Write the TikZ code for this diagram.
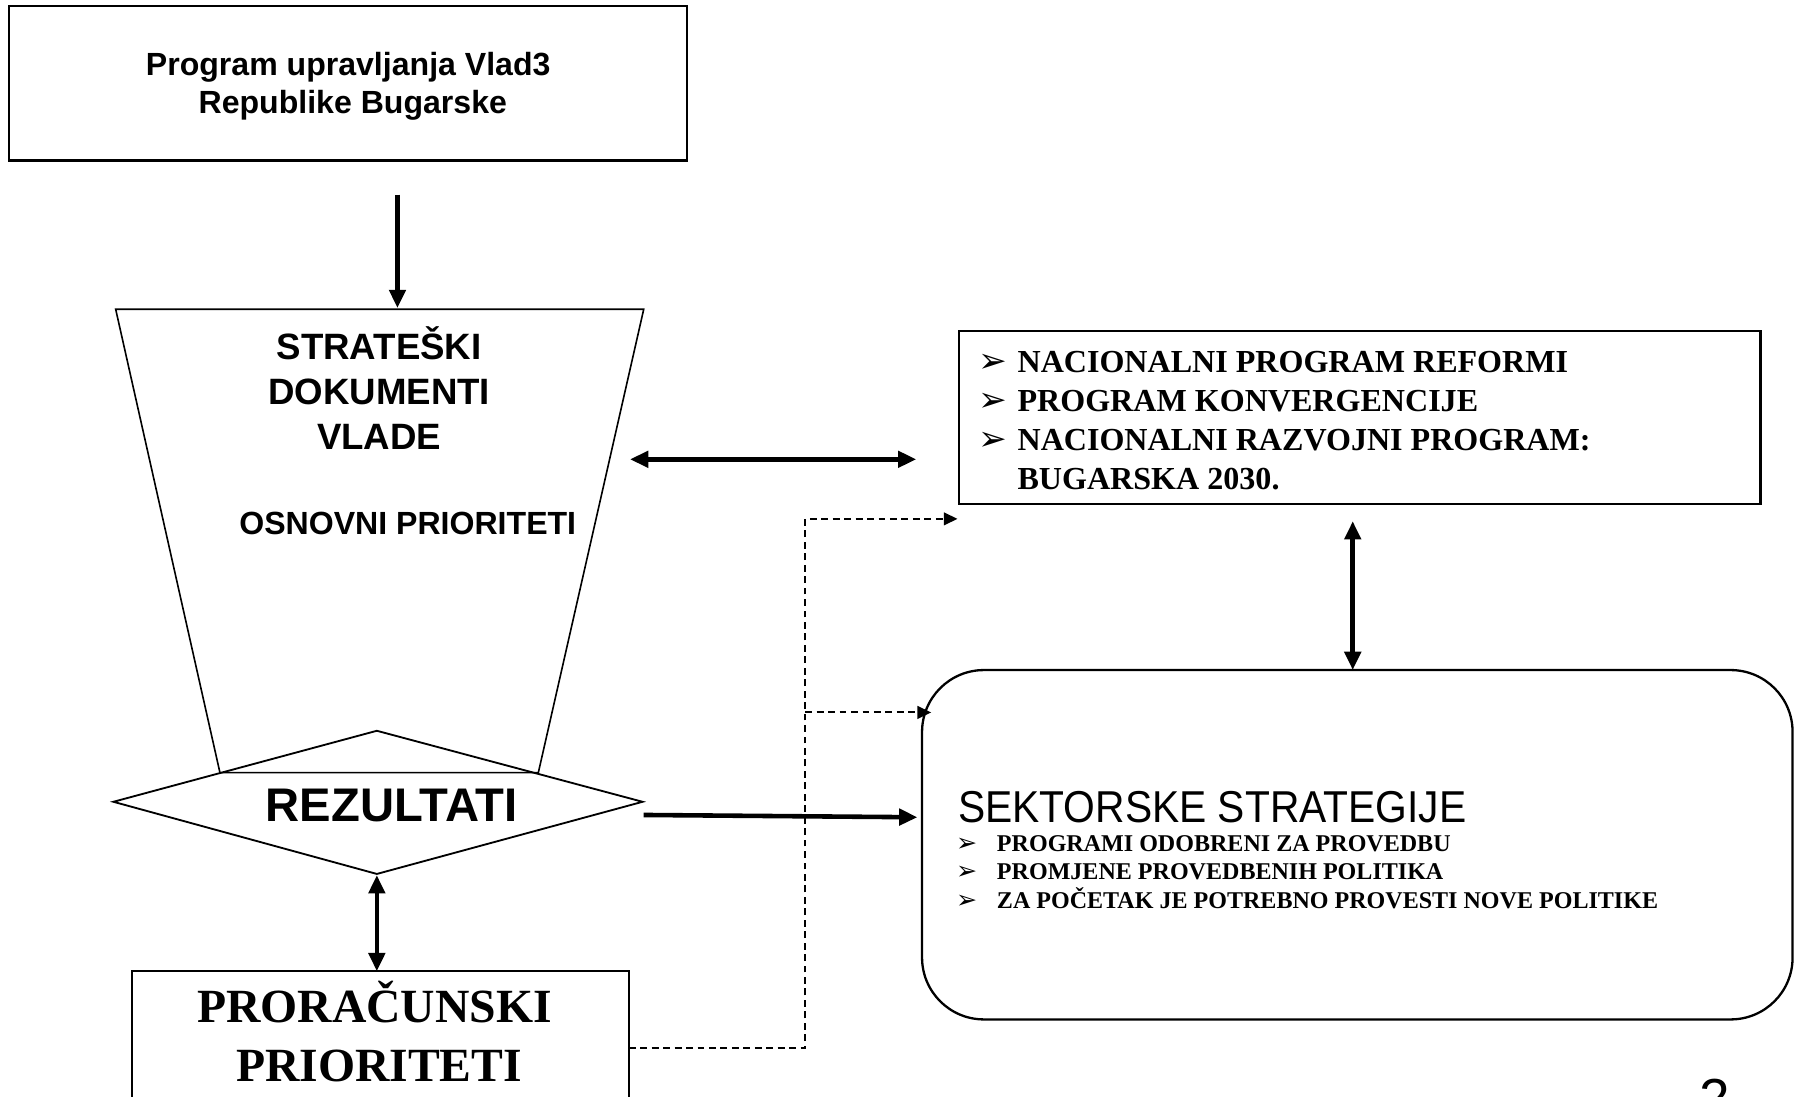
\documentclass[tikz,border=0pt]{standalone}
\usepackage{fontspec}
\setmainfont{Liberation Serif}
\newfontfamily\arial{Liberation Sans}
\newfontfamily\narrowsans[FakeStretch=0.913]{Liberation Sans}
\newfontfamily\dingfont{DejaVu Sans}
\usetikzlibrary{arrows.meta}
\tikzset{
  box/.style={draw, line width=1pt, inner sep=0pt},
  outline/.style={draw, line width=0.8pt, line join=miter},
  thickarrow/.style={line width=2pt, -{Triangle[length=8pt,width=7pt]}},
  dblarrow/.style={line width=2pt, {Triangle[length=8pt,width=7pt]}-{Triangle[length=8pt,width=7pt]}},
  toparrow/.style={line width=2pt, -{Triangle[length=8pt,width=7pt]}},
  dashconn/.style={line width=0.9pt, dash pattern=on 3pt off 2pt},
  dasharrow/.style={dashconn, -{Triangle[length=6pt,width=5.5pt]}},
  txt/.style={inner sep=0pt, anchor=base},
  ltxt/.style={inner sep=0pt, anchor=base west},
  sanshead/.style={font=\arial\bfseries\fontsize{16}{20}\selectfont},
  serifitem/.style={font=\bfseries\fontsize{14}{17}\selectfont},
  smallitem/.style={font=\bfseries\fontsize{10.5}{12.5}\selectfont},
  bulletA/.style={inner sep=0pt, anchor=base, font=\dingfont\fontsize{15}{17}\selectfont},
  bulletB/.style={inner sep=0pt, anchor=base, font=\dingfont\fontsize{11}{13}\selectfont},
}
\begin{document}
\begin{tikzpicture}[x=0.5pt,y=-0.5pt]
\path[use as bounding box, clip] (0,0) rectangle (1568,957);
\fill[white] (0,0) rectangle (1568,957);

% top box
\node[box, minimum width=296pt, minimum height=67.5pt] (top) at (304,72.5) {};
\node[txt, font=\arial\bfseries\fontsize{14}{16}\selectfont] (top1) at (304,65.5) {Program upravljanja Vlad3};
\node[txt, font=\arial\bfseries\fontsize{14}{16}\selectfont] (top2) at (308,99.5) {Republike Bugarske};

% trapezoid
\coordinate (trTL) at (101,270);
\coordinate (trTR) at (562,270);
\coordinate (trBR) at (470,674.5);
\coordinate (trBL) at (192,674.5);
\draw[line width=0.7pt] (trTL) -- (trTR) -- (trBR) -- (trBL) -- cycle;
\node[txt, sanshead] (s1) at (331,313.5) {STRATEŠKI};
\node[txt, sanshead] (s2) at (331,353.5) {DOKUMENTI};
\node[txt, sanshead] (s3) at (331,392.5) {VLADE};
\node[txt, font=\arial\bfseries\fontsize{14}{17}\selectfont] (osn) at (356,467) {OSNOVNI PRIORITETI};

% diamond
\coordinate (dL) at (99,700);
\coordinate (dT) at (329,638);
\coordinate (dR) at (561,700);
\coordinate (dB) at (329,763);
\draw[outline] (dL) -- (dT) -- (dR) -- (dB) -- cycle;
\node[txt, font=\arial\bfseries\fontsize{20.6}{24}\selectfont] (rez) at (342,717) {REZULTATI};

% right top box
\node[box, minimum width=350pt, minimum height=75.5pt] (nat) at (1187,364.5) {};
\node[bulletA] (b1) at (867,325) {➢};
\node[bulletA] (b2) at (867,359) {➢};
\node[bulletA] (b3) at (867,393) {➢};
\node[ltxt, serifitem] (n1) at (888,325) {NACIONALNI PROGRAM REFORMI};
\node[ltxt, serifitem] (n2) at (888,359) {PROGRAM KONVERGENCIJE};
\node[ltxt, serifitem] (n3) at (888,393) {NACIONALNI RAZVOJNI PROGRAM:};
\node[ltxt, serifitem] (n4) at (888,427) {BUGARSKA 2030.};

% rounded box
\node[box, rounded corners=27pt, minimum width=380pt, minimum height=152.5pt] (sek) at (1185,737.5) {};
\node[ltxt, font=\narrowsans\fontsize{19.5}{23}\selectfont] (sekt) at (836,718) {SEKTORSKE STRATEGIJE};
\node[bulletB] (c1) at (844,743) {➢};
\node[bulletB] (c2) at (844,768) {➢};
\node[bulletB] (c3) at (844,793) {➢};
\node[ltxt, smallitem] (p1) at (870,743) {PROGRAMI ODOBRENI ZA PROVEDBU};
\node[ltxt, smallitem] (p2) at (870,768) {PROMJENE PROVEDBENIH POLITIKA};
\node[ltxt, smallitem] (p3) at (870,793) {ZA POČETAK JE POTREBNO PROVESTI NOVE POLITIKE};

% bottom box
\coordinate (bbTL) at (115,848);
\coordinate (bbBR) at (549,1010);
\draw[line width=1pt] (bbTL) rectangle (bbBR);
\node[txt, font=\bfseries\fontsize{20.8}{24}\selectfont] (pr1) at (327,893) {PRORAČUNSKI};
\node[txt, font=\bfseries\fontsize{20.8}{24}\selectfont] (pr2) at (331,944) {PRIORITETI};

% page number
\node[txt, font=\arial\fontsize{24}{28}\selectfont] (pg) at (1497,976) {2};

% connectors
\coordinate (a1s) at (347,170);
\coordinate (a1e) at (347,269);
\draw[toparrow] (a1s) -- (a1e);

\coordinate (h1s) at (550,401);
\coordinate (h1e) at (800,401);
\draw[dblarrow] (h1s) -- (h1e);

\coordinate (v1s) at (1181,455);
\coordinate (v1e) at (1181,585);
\draw[dblarrow] (v1s) -- (v1e);

\coordinate (r1s) at (562,711.5);
\coordinate (r1e) at (801,713.5);
\draw[thickarrow] (r1s) -- (r1e);

\coordinate (v2s) at (329,764);
\coordinate (v2e) at (329,848);
\draw[dblarrow] (v2s) -- (v2e);

\coordinate (ds) at (549,915);
\coordinate (dc1) at (703,915);
\coordinate (dc2) at (703,453);
\coordinate (de1) at (836,453);
\coordinate (dm) at (703,622);
\coordinate (de2) at (813,622);
\draw[dasharrow] (ds) -- (dc1) -- (dc2) -- (de1);
\draw[dasharrow] (dm) -- (de2);
\end{tikzpicture}
\end{document}
